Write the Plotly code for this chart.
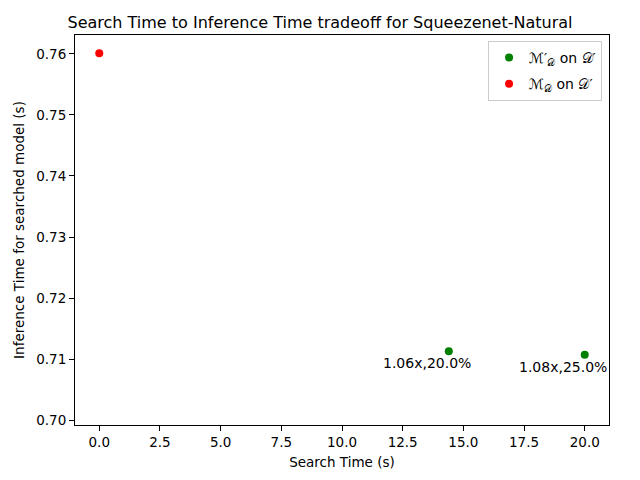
import plotly.graph_objects as go

search_time_pruned = [14.4, 20.0]
infer_time_pruned = [0.7113, 0.7107]
labels_pruned = ["1.06x,20.0%", "1.08x,25.0%"]
search_time_base = [0.0]
infer_time_base = [0.7601]

x_ticks = [0, 2.5, 5, 7.5, 10, 12.5, 15, 17.5, 20]
y_ticks = [0.70, 0.71, 0.72, 0.73, 0.74, 0.75, 0.76]

font = "DejaVu Sans"

# page body has an 8px margin; figure sized so plot area lands where the reference has it
W, H = 624, 464

fig = go.Figure()
fig.add_trace(go.Scatter(
    x=search_time_pruned, y=infer_time_pruned, mode="markers",
    marker=dict(color="#008000", size=8), legendgroup="a",
    name="ℳ′<sub>𝒟</sub> on 𝒟′"))
fig.add_trace(go.Scatter(
    x=search_time_base, y=infer_time_base, mode="markers",
    marker=dict(color="#ff0000", size=8), legendgroup="b",
    name="ℳ<sub>𝒟</sub> on 𝒟′"))

for x, y, t in zip(search_time_pruned, infer_time_pruned, labels_pruned):
    fig.add_annotation(x=x, y=y, text=t, showarrow=False, xshift=-22, yshift=-12,
                       font=dict(size=14, color="black", family=font))

axis_common = dict(showline=True, mirror=True, linecolor="black", linewidth=1,
                   ticks="outside", ticklen=5, tickcolor="black", showgrid=False,
                   zeroline=False, automargin=False,
                   tickfont=dict(size=13.5, color="black", family=font))

fig.update_xaxes(range=[-1.0, 21.0], tickvals=x_ticks, tickformat=".1f",
                 title=dict(text="Search Time (s)", font=dict(size=13.5, color="black", family=font), standoff=8),
                 **axis_common)
fig.update_yaxes(range=[0.6992, 0.7631], tickvals=y_ticks, tickformat=".2f",
                 title=dict(text="Inference Time for searched model (s)", font=dict(size=13.5, color="black", family=font), standoff=8),
                 **axis_common)

fig.update_layout(
    width=W, height=H,
    margin=dict(l=67, r=23, t=27, b=47),
    paper_bgcolor="white", plot_bgcolor="white",
    title=dict(text="Search Time to Inference Time tradeoff for Squeezenet-Natural",
               x=0.5, xanchor="center", y=1 - 14 / H, yanchor="middle",
               font=dict(size=16, color="black", family=font)),
    legend=dict(x=0.987, xanchor="right", y=0.985, yanchor="top",
                bordercolor="#cccccc", borderwidth=1, bgcolor="white",
                tracegroupgap=5, traceorder="grouped",
                font=dict(size=14, color="black", family=font)),
    font=dict(family=font),
)

fig.write_html("out.html")
